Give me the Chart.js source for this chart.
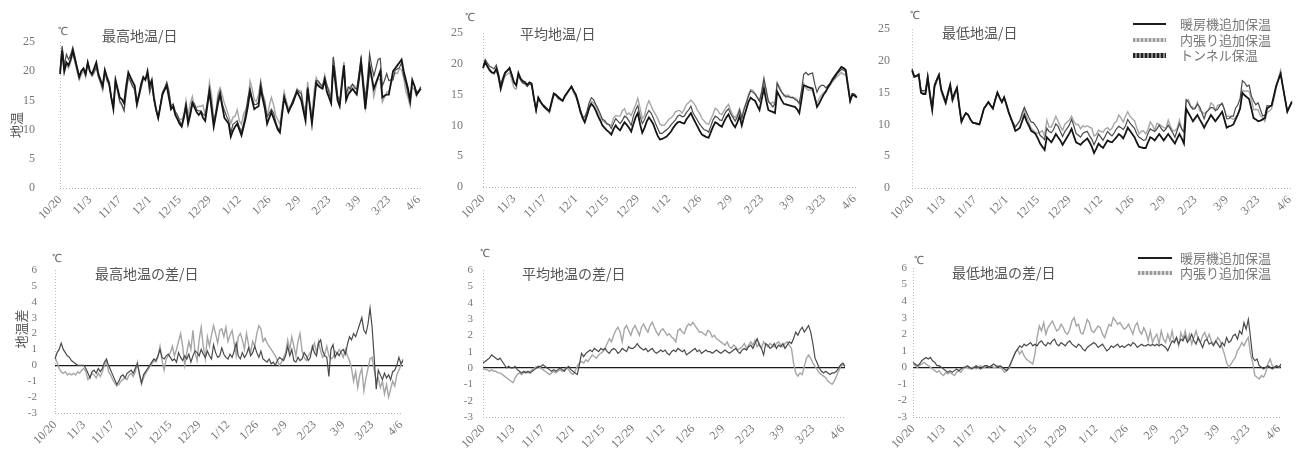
<!DOCTYPE html>
<html lang="ja">
<head>
<meta charset="utf-8">
<title>地温の推移</title>
<script src="https://cdn.jsdelivr.net/npm/chart.js@4.4.1/dist/chart.umd.min.js"></script>
<style>
  body { margin: 0; background: #fff; }
  #page { position: relative; width: 1307px; height: 457px; overflow: hidden;
          font-family: "Noto Sans CJK JP", sans-serif; color: #555; }
  canvas { position: absolute; }
  .lbl { position: absolute; white-space: nowrap; line-height: 1; }
  .title { font-size: 14px; color: #555; }
  .unit { font-size: 11px; color: #666; font-family: "Liberation Serif", serif; }
  .ytitle { font-size: 13px; color: #555; transform: translate(-50%, -50%) rotate(-90deg); }
  .legend-row { position: absolute; height: 14px; }
  .legend-row .sw { position: absolute; left: 0; }
  .legend-row .tx { position: absolute; font-size: 13px; color: #777; white-space: nowrap; line-height: 14px; top: 0; }
</style>
</head>
<body>
<div id="page">
  <canvas id="cMax" width="436" height="230" style="left:0;top:0"></canvas>
  <canvas id="cAvg" width="436" height="230" style="left:436px;top:0"></canvas>
  <canvas id="cMin" width="435" height="230" style="left:872px;top:0"></canvas>
  <canvas id="dMax" width="436" height="227" style="left:0;top:230px"></canvas>
  <canvas id="dAvg" width="436" height="227" style="left:436px;top:230px"></canvas>
  <canvas id="dMin" width="435" height="227" style="left:872px;top:230px"></canvas>
</div>
<script>
// daily values from 10/20 to 4/7 (170 days)
const startDay = [2010, 9, 20];
const dayCount = 170;
const tickLabels = ['10/20', '11/3', '11/17', '12/1', '12/15', '12/29', '1/12', '1/26', '2/9', '2/23', '3/9', '3/23', '4/6'];

const seriesNames = ['暖房機追加保温', '内張り追加保温', 'トンネル保温'];
const diffNames = ['暖房機追加保温', '内張り追加保温'];

// トンネル保温 (baseline), ℃
const tunnelMax = [
  19.5, 23.5, 20.0, 21.5, 21.0, 22.0, 23.5, 22.0, 20.5, 19.0, 20.0, 20.5, 19.5, 21.5,
  20.0, 19.5, 20.5, 21.5, 19.5, 18.5, 17.5, 20.2, 19.0, 18.0, 15.5, 13.5, 18.5, 17.0,
  15.5, 15.2, 14.5, 17.5, 19.8, 19.0, 18.2, 17.5, 14.5, 16.0, 17.8, 19.0, 18.5, 20.0,
  17.5, 18.5, 15.5, 13.5, 12.0, 14.0, 16.0, 16.8, 17.5, 15.5, 13.5, 14.0, 12.5, 11.8,
  11.0, 10.5, 12.0, 14.0, 11.0, 12.5, 14.5, 13.8, 13.0, 12.5, 13.0, 12.0, 11.5, 14.0,
  16.5, 13.5, 10.5, 12.5, 14.5, 16.0, 14.0, 12.0, 11.5, 11.0, 8.8, 9.8, 10.5, 11.0,
  10.0, 9.0, 10.5, 12.0, 14.0, 16.5, 15.0, 13.5, 13.8, 14.0, 17.0, 15.2, 13.5, 11.0,
  12.0, 13.0, 12.0, 11.0, 10.0, 9.5, 12.5, 15.5, 14.2, 13.0, 13.8, 14.5, 15.5, 16.5,
  15.8, 15.0, 13.2, 11.5, 17.0, 14.0, 11.0, 14.5, 18.0, 17.5, 17.2, 17.0, 18.5, 16.5,
  15.5, 14.5, 21.0, 18.0, 15.0, 14.0, 17.5, 21.0, 15.0, 16.0, 16.5, 17.0, 16.5, 16.0,
  18.5, 21.5, 17.5, 13.5, 17.0, 21.0, 19.0, 17.0, 18.0, 19.0, 20.0, 15.5, 15.8, 16.0,
  16.0, 18.0, 20.0, 20.5, 21.0, 21.5, 22.0, 20.0, 18.5, 17.0, 15.0, 18.5, 17.5, 16.0, 16.5, 17.0
];
const tunnelAvg = [
  19.3, 20.3, 19.6, 19.0, 18.6, 18.5, 19.2, 18.0, 16.0, 17.4, 18.5, 18.9, 19.3, 18.2,
  17.0, 16.5, 18.5, 17.6, 17.2, 17.0, 16.6, 17.0, 16.8, 14.5, 12.5, 14.5, 13.8, 13.3,
  12.9, 12.6, 12.3, 13.8, 15.2, 15.0, 14.6, 14.3, 14.0, 14.8, 15.3, 15.8, 16.3, 15.6,
  15.0, 13.8, 12.4, 11.2, 10.5, 11.6, 12.8, 13.5, 13.1, 12.4, 11.5, 10.8, 10.0, 9.6,
  9.2, 8.9, 8.5, 9.4, 10.0, 9.5, 9.2, 9.9, 10.5, 10.1, 9.6, 9.0, 10.2, 11.3,
  12.0, 10.2, 8.8, 9.6, 10.6, 11.3, 10.8, 10.2, 9.2, 8.3, 7.7, 7.8, 8.0, 8.2,
  8.6, 9.0, 9.6, 10.1, 10.5, 10.6, 10.4, 10.3, 11.0, 11.5, 12.0, 11.2, 10.5, 9.8,
  9.1, 8.5, 8.3, 8.1, 8.0, 8.9, 9.8, 10.5, 10.3, 10.0, 9.8, 10.6, 11.3, 11.8,
  10.9, 10.2, 9.7, 10.5, 11.5, 10.0, 11.4, 12.6, 13.8, 14.5, 14.2, 14.0, 13.2, 12.5,
  14.2, 16.0, 14.1, 12.5, 12.3, 12.2, 12.0, 15.5, 14.8, 14.1, 13.5, 13.4, 13.3, 13.2,
  13.1, 13.0, 12.6, 12.0, 14.2, 16.5, 16.4, 16.2, 16.1, 16.0, 14.5, 13.0, 13.6, 14.3,
  15.0, 15.5, 16.2, 16.8, 17.5, 18.0, 18.5, 19.0, 19.5, 19.3, 19.0, 16.5, 14.0, 15.0, 14.8, 14.5
];
const tunnelMin = [
  18.5, 17.5, 17.6, 17.8, 15.0, 14.8, 14.8, 17.3, 14.5, 12.3, 16.0, 17.0, 17.8, 15.5,
  14.5, 13.5, 15.0, 16.3, 14.0, 15.0, 15.8, 13.0, 10.5, 11.2, 11.8, 11.5, 10.8, 10.3,
  10.2, 10.1, 10.0, 11.2, 12.5, 13.0, 13.5, 13.0, 12.5, 13.8, 15.0, 14.2, 13.5, 14.3,
  13.2, 12.0, 11.0, 10.0, 9.0, 9.2, 9.5, 10.5, 11.5, 10.5, 9.8, 9.0, 8.8, 8.5,
  7.8, 7.0, 6.5, 6.0, 8.0, 7.6, 7.2, 7.8, 8.5, 8.0, 7.5, 6.8, 7.4, 8.0,
  8.6, 9.3, 8.2, 7.2, 7.0, 6.8, 7.2, 7.5, 7.8, 7.2, 6.5, 5.5, 6.2, 7.0,
  6.6, 6.3, 6.9, 7.5, 7.3, 7.2, 7.6, 8.0, 8.5, 8.2, 7.8, 8.6, 9.5, 9.0,
  8.5, 8.0, 7.2, 6.5, 6.4, 6.3, 6.3, 7.2, 8.0, 7.8, 7.5, 8.0, 8.5, 8.0,
  7.5, 8.0, 8.5, 8.0, 7.5, 7.0, 7.8, 8.5, 7.8, 7.0, 12.5, 11.8, 11.2, 10.5,
  11.0, 11.5, 10.8, 10.2, 9.5, 10.2, 10.8, 11.5, 11.0, 10.5, 11.0, 11.5, 12.0, 10.8,
  9.5, 9.7, 9.8, 10.0, 10.8, 11.6, 12.5, 15.0, 14.6, 14.3, 14.0, 12.5, 11.0, 10.8,
  10.5, 10.6, 10.8, 11.0, 12.5, 12.8, 13.0, 14.5, 16.0, 17.0, 18.0, 16.0, 14.0, 12.0, 12.8, 13.5
];

// difference to トンネル保温, ℃
const heaterDiffMax = [
  0.4, 0.8, 1.0, 1.4, 1.0, 0.8, 0.6, 0.5, 0.3, 0.2, 0.1, 0.0, 0.0, 0.0,
  0.0, -0.2, -0.5, -0.8, -0.4, -0.3, -0.5, -0.2, -0.4, -0.2, 0.2, 0.4, 0.0, -0.3,
  -0.6, -0.9, -1.2, -1.0, -0.7, -0.6, -0.8, -0.5, -0.4, -0.3, -0.5, -0.2, 0.1, -0.5,
  -1.1, -0.6, -0.4, -0.2, 0.0, 0.2, 0.4, 0.3, 0.6, 1.0, 0.5, 0.4, 0.6, 0.7,
  0.5, 0.3, 0.4, 0.2, 0.8, 0.5, 0.3, 0.6, 0.4, 0.7, 0.2, 0.6, 0.9, 0.8,
  0.6, 1.0, 0.7, 0.5, 0.9, 0.6, 0.4, 1.3, 0.8, 0.5, 0.6, 1.1, 0.7, 0.5,
  0.4, 0.7, 0.5, 0.9, 1.4, 0.6, 0.4, 0.8, 0.5, 0.7, 1.1, 0.6, 0.8, 1.2,
  0.8, 0.5, 0.9, 0.4, 0.3, 0.2, 0.4, 0.1, 0.2, 0.0, 0.3, 0.5, 0.4, 0.3,
  0.6, 1.2, 0.6, 1.0, 0.3, 0.2, 0.5, 0.3, 0.4, 0.8, 0.6, 0.3, 0.5, 1.2,
  0.8, 0.6, 1.4, 1.6, 0.9, 0.6, 0.5, -0.7, 1.0, 1.3, 0.5, 0.8, 0.6, 0.9,
  1.0, 0.7, 1.3, 1.8, 1.6, 2.0, 1.8, 2.2, 2.6, 3.0, 2.2, 2.0, 2.6, 3.6,
  2.4, 0.5, -1.5, -0.3, -0.6, -0.9, -0.5, -0.8, -0.6, -0.9, -0.4, -0.3, 0.0, 0.5, 0.1, 0.3
];
const curtainDiffMax = [
  0.5, 0.2, -0.2, -0.4, -0.5, -0.4, -0.6, -0.5, -0.6, -0.5, -0.6, -0.4, -0.5, -0.3,
  -0.2, -0.4, -0.9, -0.7, -0.5, -0.6, -0.8, -0.5, -0.7, -0.4, 0.0, 0.3, -0.4, -0.6,
  -0.9, -1.1, -1.3, -1.2, -1.0, -0.9, -0.8, -0.9, -0.6, -0.5, -0.7, -0.4, 0.2, -0.6,
  -1.2, -0.8, -0.5, -0.3, -0.1, 0.1, 0.3, 0.2, 0.5, 1.2, 0.3, -0.3, 0.4, 0.6,
  0.8, 1.2, 0.6, 1.0, 1.5, 2.0, 1.2, 0.0, 0.8, 1.5, 1.0, 2.2, 0.8, 0.3,
  1.6, 2.4, 1.2, 0.4, 1.8, 1.2, 1.9, 2.5, 2.0, 1.4, 2.2, 2.3, 1.8, 2.4,
  1.5, 1.9, 2.2, 1.4, 0.6, 1.8, 2.0, 1.6, 1.0, 2.0, 1.3, 0.8, 1.5, 1.2,
  2.0, 2.5, 2.3, 1.5, 1.7, 1.4, 1.2, 1.0, 0.8, 0.6, 0.3, 0.0, 0.2, 0.5,
  0.8, 1.6, 1.0, 1.8, 1.2, 0.6, 1.5, 2.0, 0.9, 0.5, 0.3, 0.6, 0.8, 1.0,
  1.4, 0.8, 1.5, 0.9, 0.5, 0.7, 1.2, 0.6, 0.4, 0.5, 0.9, 0.7, 1.0, 0.8,
  0.5, 1.0, 0.6, 0.3, -0.2, -1.0, -0.4, -1.4, -0.6, -0.2, -1.6, -0.8, -0.2, 0.4,
  0.5, -0.3, -1.0, -0.8, -1.4, -1.0, -1.8, -1.2, -2.0, -1.5, -1.0, -1.3, -0.6, -0.3, 0.0, 0.4
];
const heaterDiffAvg = [
  0.3, 0.4, 0.5, 0.6, 0.8, 0.7, 0.6, 0.5, 0.6, 0.4, 0.2, 0.0, 0.1, 0.0,
  0.0, 0.1, -0.1, -0.2, -0.3, -0.2, -0.3, -0.2, -0.3, -0.2, -0.1, 0.0, 0.1, 0.1,
  0.2, 0.1, 0.0, -0.1, -0.2, -0.1, -0.2, -0.1, 0.0, -0.1, -0.2, 0.0, 0.1, -0.1,
  -0.2, -0.3, -0.4, 0.2, 0.9, 0.7, 0.9, 1.0, 1.1, 1.0, 1.2, 1.1, 1.0, 1.2,
  1.1, 1.2, 1.0, 0.9, 1.1, 1.2, 1.1, 0.9, 1.0, 1.2, 1.1, 1.0, 1.3, 1.2,
  1.2, 1.3, 1.5, 1.3, 1.2, 1.1, 1.2, 1.0, 1.1, 1.2, 1.0, 0.9, 1.0, 1.1,
  1.0, 1.1, 0.9, 0.8, 1.0, 1.1, 1.0, 1.2, 1.1, 1.0, 1.1, 0.8, 0.9, 1.0,
  1.1, 1.2, 1.0, 1.1, 0.9, 1.0, 1.1, 1.0, 1.0, 0.9, 1.0, 1.1, 1.0, 0.9,
  1.0, 1.1, 1.0, 0.9, 1.0, 1.1, 1.2, 1.0, 0.9, 1.1, 1.2, 1.1, 1.3, 1.4,
  1.2, 1.5, 1.8, 1.4, 1.2, 0.8, 1.5, 1.4, 1.2, 1.3, 1.5, 1.2, 1.4, 1.3,
  1.5, 1.2, 1.4, 1.6, 1.5, 1.8, 2.2, 2.0, 2.3, 2.5, 2.2, 2.4, 2.6, 2.2,
  1.5, 0.6, 0.3, 0.0, -0.2, -0.3, -0.2, -0.3, -0.4, -0.3, -0.3, -0.2, 0.0, 0.2, 0.3, 0.1
];
const curtainDiffAvg = [
  0.0, -0.1, -0.1, -0.2, -0.1, -0.2, -0.2, -0.3, -0.3, -0.4, -0.5, -0.6, -0.7, -0.8,
  -0.9, -0.6, -0.4, -0.3, -0.4, -0.3, -0.2, -0.3, -0.2, -0.1, 0.0, 0.1, 0.1, 0.0,
  -0.1, -0.2, -0.3, -0.4, -0.3, -0.2, -0.3, -0.2, -0.1, -0.2, -0.1, 0.0, -0.1, -0.3,
  -0.4, -0.2, 0.1, 0.3, 0.4, 0.3, 0.5, 0.4, 0.6, 0.8, 0.7, 0.6, 0.8, 0.9,
  1.0, 1.2, 1.5, 1.8, 1.6, 2.0, 2.3, 2.5, 2.2, 1.6, 2.4, 2.6, 2.3, 2.0,
  2.4, 2.6, 2.3, 2.0, 2.5, 2.7, 2.4, 2.2, 2.6, 2.8, 2.5, 2.2, 2.0, 2.3,
  2.4, 2.2, 2.0, 2.1, 1.9, 1.8, 1.6, 2.3, 2.4, 2.2, 2.1, 2.5, 2.7, 2.6,
  2.8, 2.6, 2.4, 2.2, 2.2, 2.1, 2.0, 2.3, 2.2, 1.9, 2.0, 1.8, 1.7, 1.6,
  1.5, 1.4, 1.6, 1.3, 1.2, 1.4, 1.3, 1.1, 1.2, 1.3, 1.5, 1.2, 1.4, 1.6,
  1.4, 1.7, 1.3, 1.5, 1.2, 1.6, 1.4, 1.3, 1.5, 1.4, 1.3, 1.5, 1.6, 1.4,
  1.3, 1.5, 1.6, 1.4, 1.2, 0.3, -0.3, -0.5, -0.3, -0.4, 0.1, 0.6, 0.8, 0.6,
  0.3, 0.1, -0.1, -0.3, -0.4, -0.5, -0.6, -0.8, -0.9, -1.0, -0.8, -0.5, -0.2, 0.1, 0.2, 0.1
];
const heaterDiffMin = [
  0.3, 0.2, 0.1, 0.2, 0.4, 0.5, 0.6, 0.5, 0.6, 0.4, 0.3, 0.1, 0.1, 0.0,
  -0.1, -0.2, -0.3, -0.2, -0.3, -0.2, -0.1, -0.2, -0.1, 0.0, 0.0, 0.1, 0.0, -0.1,
  0.0, 0.1, 0.0, -0.1, 0.0, 0.1, 0.1, 0.0, 0.1, 0.2, 0.1, 0.0, 0.1, 0.0,
  -0.1, -0.2, 0.0, 0.3, 0.6, 0.9, 1.1, 1.3, 1.2, 1.4, 1.3, 1.4, 1.5, 1.3,
  1.4, 1.3, 1.5, 1.6, 1.4, 1.3, 1.5, 1.4, 1.6, 1.7, 1.4, 1.3, 1.5, 1.4,
  1.3, 1.5, 1.6, 1.4, 1.3, 1.2, 1.4, 1.3, 1.1, 1.0, 1.2, 1.3, 1.4, 1.5,
  1.4, 1.2, 1.3, 1.4, 1.2, 1.0, 1.1, 1.3, 1.2, 1.3, 1.4, 1.2, 1.3, 1.2,
  1.3, 1.4, 1.3, 1.5, 1.4, 1.2, 1.3, 1.4, 1.3, 1.3, 1.4, 1.3, 1.4, 1.3,
  1.4, 1.3, 1.4, 1.3, 1.2, 1.0, 1.3, 1.6, 1.5, 1.8, 1.4, 1.7, 1.6, 1.9,
  1.5, 1.7, 2.0, 1.6, 1.4, 1.8, 1.5, 1.2, 1.6, 1.7, 1.4, 1.5, 1.3, 1.6,
  1.4, 1.2, 1.5, 1.3, 1.8, 1.5, 1.6, 1.9, 2.0, 1.7, 2.2, 2.0, 2.7, 2.3,
  2.9, 1.8, 0.6, 0.4, 0.5, 0.1, 0.0, -0.1, 0.0, 0.1, 0.0, -0.1, 0.0, 0.1, 0.0, 0.2
];
const curtainDiffMin = [
  0.2, 0.1, 0.0, 0.1, 0.2, 0.3, 0.2, 0.1, 0.0, -0.1, -0.2, -0.3, -0.2, -0.4,
  -0.5, -0.3, -0.4, -0.3, -0.4, -0.5, -0.3, -0.2, -0.3, -0.1, 0.0, 0.0, -0.1, 0.0,
  0.0, -0.1, 0.0, 0.1, 0.0, 0.0, 0.1, 0.0, 0.1, 0.0, 0.0, 0.1, 0.0, -0.1,
  -0.3, -0.2, -0.1, 0.2, 0.6, 0.9, 1.1, 0.8, 1.0, 0.7, 0.5, 0.4, 0.3, 0.2,
  0.8, 1.8, 2.5, 2.2, 2.7, 2.0, 2.4, 2.6, 2.8, 2.5, 2.2, 2.3, 2.6, 2.4,
  2.1, 2.0, 2.3, 2.8, 3.0, 2.5, 2.6, 2.1, 2.0, 2.4, 2.9, 2.7, 2.2, 2.1,
  2.3, 2.5, 2.4, 2.0, 1.8, 2.2, 2.6, 2.5, 3.0, 2.8, 2.6, 2.7, 2.5, 2.3,
  2.4, 2.6, 2.3, 2.0, 2.5, 2.7, 2.2, 2.0, 2.4, 2.1, 1.6, 2.2, 1.5, 1.8,
  2.0, 1.4, 2.2, 1.7, 1.5, 2.0, 1.6, 2.2, 1.5, 1.8, 1.3, 2.1, 1.7, 2.2,
  1.6, 2.0, 1.4, 1.8, 2.2, 1.7, 1.5, 1.9, 2.1, 1.7, 2.0, 1.6, 1.4, 1.5,
  1.8, 1.6, 1.2, 0.8, 0.3, 0.0, 0.2, 0.4, 0.6, 1.0, 1.2, 1.5, 1.3, 1.6,
  1.8, 0.8, 0.3, -0.5, -0.6, -0.7, -0.5, -0.6, -0.3, 0.2, 0.5, 0.1, 0.0, 0.1, 0.0, 0.1
];

// date labels for the category axis
const dayLabels = [];
for (let i = 0; i < dayCount; i++) {
  const d = new Date(startDay[0], startDay[1], startDay[2] + i);
  dayLabels.push((d.getMonth() + 1) + '/' + d.getDate());
}

const addDiff = (base, diff) => base.map((v, i) => Math.round((v + diff[i]) * 10) / 10);
const heaterMax = addDiff(tunnelMax, heaterDiffMax);
const curtainMax = addDiff(tunnelMax, curtainDiffMax);
const heaterAvg = addDiff(tunnelAvg, heaterDiffAvg);
const curtainAvg = addDiff(tunnelAvg, curtainDiffAvg);
const heaterMin = addDiff(tunnelMin, heaterDiffMin);
const curtainMin = addDiff(tunnelMin, curtainDiffMin);

const lineStyle = [
  { color: '#4a4a4a', width: 1.2, order: 1 },   // 暖房機追加保温
  { color: '#a6a6a6', width: 1.4, order: 2 },   // 内張り追加保温
  { color: '#151515', width: 1.8, order: 0 }    // トンネル保温
];

const panels = [
  { id: 'cMax', diff: false, w: 436, h: 230, top: 42, right: 11, yW: 60, xH: 42, tickPad: 25, series: [heaterMax, curtainMax, tunnelMax] },
  { id: 'cAvg', diff: false, w: 436, h: 230, top: 33, right: 12, yW: 47, xH: 43, tickPad: 20, series: [heaterAvg, curtainAvg, tunnelAvg] },
  { id: 'cMin', diff: false, w: 435, h: 230, top: 29, right: 7, yW: 40, xH: 42, tickPad: 22, series: [heaterMin, curtainMin, tunnelMin] },
  { id: 'dMax', diff: true, w: 436, h: 227, top: 40, right: 33, yW: 55, xH: 44, tickPad: 18, series: [heaterDiffMax, curtainDiffMax] },
  { id: 'dAvg', diff: true, w: 436, h: 227, top: 40, right: 27, yW: 47, xH: 40, tickPad: 10, series: [heaterDiffAvg, curtainDiffAvg] },
  { id: 'dMin', diff: true, w: 435, h: 227, top: 38, right: 26, yW: 41, xH: 40, tickPad: 6, series: [heaterDiffMin, curtainDiffMin] }
];

Chart.defaults.font.family = '"Liberation Serif", serif';
Chart.defaults.color = '#777';

const clear = 'rgba(0,0,0,0)';

function buildPanel(p) {
  const names = p.diff ? diffNames : seriesNames;
  const yMin = p.diff ? -3 : 0;
  const datasets = p.series.map((vals, i) => ({
    label: names[i],
    data: vals,
    borderColor: lineStyle[i].color,
    borderWidth: lineStyle[i].width,
    order: p.diff ? i : lineStyle[i].order,
    pointRadius: 0,
    tension: 0,
    fill: false
  }));

  // the solid zero line of the difference charts
  const isZero = ctx => p.diff && ctx.tick && ctx.tick.value === 0;

  new Chart(document.getElementById(p.id), {
    type: 'line',
    data: { labels: dayLabels, datasets },
    options: {
      responsive: false,
      animation: false,
      events: [],
      layout: { padding: { top: p.top, right: p.right, left: 0, bottom: 0 } },
      plugins: { legend: { display: false }, tooltip: { enabled: false } },
      scales: {
        x: {
          // the left axis line is the grid line of the first day, dotted
          grid: {
            drawTicks: false,
            color: ctx => ctx.index === 0 ? '#bdbdbd' : clear,
            lineWidth: 1
          },
          border: { display: false, dash: [1, 2] },
          ticks: {
            autoSkip: false,
            minRotation: 45,
            maxRotation: 45,
            padding: 5,
            font: { size: 12 },
            color: '#777',
            callback: function (value) {
              const lab = this.getLabelForValue(value);
              return tickLabels.includes(lab) ? lab : '';
            }
          },
          afterFit: s => { s.height = p.xH; }
        },
        y: {
          min: yMin,
          max: p.diff ? 6 : 25,
          border: { display: false, dash: ctx => isZero(ctx) ? [] : [1, 2] },
          grid: {
            drawTicks: false,
            lineWidth: ctx => isZero(ctx) ? 1.3 : 1,
            color: ctx => {
              if (isZero(ctx)) return '#1a1a1a';
              if (ctx.tick && ctx.tick.value === yMin) return '#b0b0b0';
              return clear;
            }
          },
          ticks: {
            autoSkip: false,
            stepSize: p.diff ? 1 : 5,
            padding: p.tickPad,
            font: { size: p.diff ? 11 : 12 },
            color: '#777'
          },
          afterFit: s => { s.width = p.yW; }
        }
      }
    }
  });
}

panels.forEach(buildPanel);

// texts over the plots
const page = document.getElementById('page');
function addLabel(text, cls, x, y) {
  const el = document.createElement('div');
  el.className = 'lbl ' + cls;
  el.textContent = text;
  el.style.left = x + 'px';
  el.style.top = y + 'px';
  page.appendChild(el);
  return el;
}

[[58, 26], [465, 12], [910, 10], [52, 253], [480, 248], [914, 255]].forEach(([x, y]) => addLabel('℃', 'unit', x, y));

addLabel('最高地温/日', 'title', 102, 28);
addLabel('平均地温/日', 'title', 520, 26);
addLabel('最低地温/日', 'title', 942, 25);
addLabel('最高地温の差/日', 'title', 95, 266);
addLabel('平均地温の差/日', 'title', 522, 266);
addLabel('最低地温の差/日', 'title', 952, 265);

addLabel('地温', 'ytitle', 15, 125);
addLabel('地温差', 'ytitle', 20, 329);

// legends
const swatches = [
  'height:2px;background:#1e1e1e;',
  'height:4px;background:repeating-linear-gradient(90deg,#9a9a9a 0 2px,#d4d4d4 2px 4px);',
  'height:5px;background:repeating-linear-gradient(90deg,#222 0 2px,#8a8a8a 2px 4px);'
];
function addLegend(names, x, ys, swW) {
  names.forEach((name, i) => {
    const row = document.createElement('div');
    row.className = 'legend-row';
    row.style.left = x + 'px';
    row.style.top = (ys[i] - 7) + 'px';
    const sw = document.createElement('div');
    sw.className = 'sw';
    sw.style.cssText += swatches[i] + 'width:' + swW + 'px;';
    sw.style.top = (7 - parseInt(swatches[i].match(/height:(\d+)/)[1], 10) / 2) + 'px';
    const tx = document.createElement('div');
    tx.className = 'tx';
    tx.style.left = (1180 - x) + 'px';
    tx.textContent = name;
    row.appendChild(sw);
    row.appendChild(tx);
    page.appendChild(row);
  });
}
addLegend(seriesNames, 1133, [24, 40, 55], 33);
addLegend(diffNames, 1138, [258, 273], 34);
</script>
</body>
</html>
